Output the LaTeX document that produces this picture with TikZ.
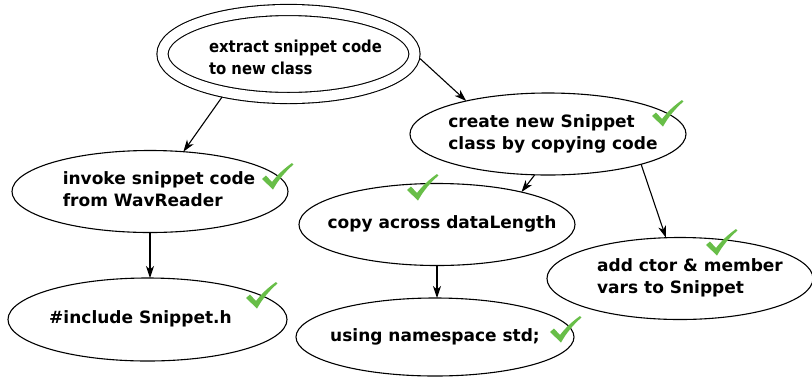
\documentclass[tikz,border=0pt]{standalone}
\usepackage{fontspec}
\setmainfont{DejaVu Sans}
\newfontfamily\condensedfont{DejaVu Sans Condensed}
\usetikzlibrary{arrows.meta,shapes.geometric}

\definecolor{tickgreen}{RGB}{104,190,72}

% text set in a zero width box, so the oval keeps its own size
\newcommand{\ovaltext}[2][0pt]{\makebox[0pt]{\hspace{#1}\begin{tabular}{@{}l@{}}#2\end{tabular}}}

\begin{document}
\begin{tikzpicture}
        [x=1pt,y=-1pt,
        every node/.style={inner sep=0pt,outer sep=0pt},
        task-oval/.style={ellipse,draw=black,line width=1.1pt,minimum width=276pt,minimum height=82pt,
                font=\fontsize{17}{22}\selectfont\bfseries},
        start-oval/.style={ellipse,draw=black,line width=1.1pt,double=white,double distance=10pt,
                outer sep=6.1pt,minimum width=252pt,minimum height=88pt,
                font=\condensedfont\fontsize{16.5}{22}\selectfont\bfseries},
        done-tick/.pic={
                \fill[tickgreen] (-15,2) -- (-11,-1.5) -- (-5,5)
                        .. controls (1,-3) and (8,-9) .. (15,-14) -- (16.5,-12.5)
                        .. controls (9,-6) and (2,2) .. (-4,12.5) -- cycle;
        },
        flow-arrow/.style={-{Stealth[length=12pt,width=8pt,inset=3.5pt]},line width=1.1pt}
        ]
        \useasboundingbox (0,0) rectangle (812,376);
        \node[start-oval] (extract) at (288.5, 54) {\ovaltext[14pt]{\rule{0pt}{25pt}extract snippet code\\to new class}};
        \node[task-oval] (create) at (548, 134) {\ovaltext[10pt]{create new Snippet\\class by copying code}};
        \node[task-oval] (invoke) at (150, 191.5) {\ovaltext[18pt]{invoke snippet code\\from WavReader}};
        \node[task-oval] (copy) at (437, 224.5) {\ovaltext[10pt]{copy across dataLength}};
        \node[task-oval,minimum width=266pt] (add) at (680, 278.5) {\ovaltext[20pt]{add ctor \& member\\vars to Snippet}};
        \node[task-oval,minimum width=279pt,minimum height=83pt] (include) at (147.5, 319.5) {\ovaltext[-14pt]{\#include Snippet.h}};
        \node[task-oval,minimum width=278pt,minimum height=78pt] (using) at (435, 337) {\ovaltext{using namespace std;}};
        \pic (create-tick) at (667, 114) {done-tick};
        \pic (invoke-tick) at (277, 177) {done-tick};
        \pic (copy-tick) at (422, 188) {done-tick};
        \pic (add-tick) at (721, 243) {done-tick};
        \pic (include-tick) at (261, 296) {done-tick};
        \pic (using-tick) at (565, 330) {done-tick};
        \draw[flow-arrow] (extract.213.7) -- (invoke.50);
        \draw[flow-arrow] (extract.-2.6) -- (create.158);
        \draw[flow-arrow] (create.252) -- (copy.21);
        \draw[flow-arrow] (create.-18.2) -- (add.109);
        \draw[flow-arrow] (invoke.south) -- (invoke.south |- include.north);
        \draw[flow-arrow] (copy.south) -- (copy.south |- using.north);
    \end{tikzpicture}
\end{document}
